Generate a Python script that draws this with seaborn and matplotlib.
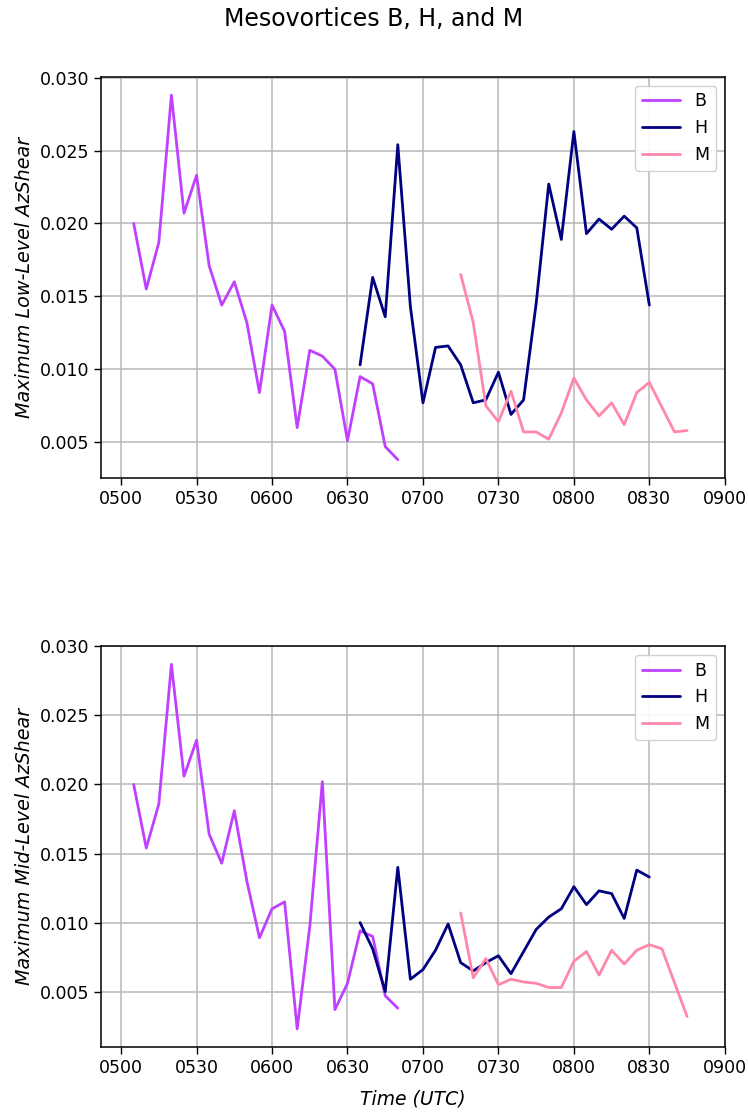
import numpy as np
import pandas as pd
import seaborn as sns
import matplotlib
matplotlib.use('Agg')
import matplotlib.pyplot as plt

# ---- data (times as HHMM UTC) ----
b_times = [505, 510, 515, 520, 525, 530, 535, 540, 545, 550, 555, 600,
           605, 610, 615, 620, 625, 630, 635, 640, 645, 650]
h_times = [635, 640, 645, 650, 655, 700, 705, 710, 715, 720, 725, 730,
           735, 740, 745, 750, 755, 800, 805, 810, 815, 820, 825, 830]
m_times_low = [715, 720, 725, 730, 735, 740, 745, 750, 755, 800, 805, 810,
               815, 820, 825, 830, 840, 845]
m_times_mid = [715, 720, 725, 730, 735, 740, 745, 750, 755, 800, 805, 810,
               815, 820, 825, 830, 835, 845]

b_low = [0.0200, 0.0155, 0.0187, 0.0288, 0.0207, 0.0233, 0.0171, 0.0144,
         0.0160, 0.0132, 0.0084, 0.0144, 0.0126, 0.0060, 0.0113, 0.0109,
         0.0100, 0.0051, 0.0095, 0.0090, 0.0047, 0.0038]
h_low = [0.0103, 0.0163, 0.0136, 0.0254, 0.0143, 0.0077, 0.0115, 0.0116,
         0.0103, 0.0077, 0.0079, 0.0098, 0.0069, 0.0079, 0.0145, 0.0227,
         0.0189, 0.0263, 0.0193, 0.0203, 0.0196, 0.0205, 0.0197, 0.0144]
m_low = [0.0165, 0.0132, 0.0075, 0.0064, 0.0085, 0.0057, 0.0057, 0.0052,
         0.0070, 0.0094, 0.0079, 0.0068, 0.0077, 0.0062, 0.0084, 0.0091,
         0.0057, 0.0058]

b_mid = [0.0200, 0.0154, 0.0186, 0.0287, 0.0206, 0.0232, 0.0164, 0.0143,
         0.0181, 0.0130, 0.0089, 0.0110, 0.0115, 0.0023, 0.0097, 0.0202,
         0.0037, 0.0056, 0.0094, 0.0090, 0.0047, 0.0038]
h_mid = [0.0100, 0.0081, 0.0050, 0.0140, 0.0059, 0.0066, 0.0080, 0.0099,
         0.0071, 0.0065, 0.0071, 0.0076, 0.0063, 0.0079, 0.0095, 0.0104,
         0.0110, 0.0126, 0.0113, 0.0123, 0.0121, 0.0103, 0.0138, 0.0133]
m_mid = [0.0107, 0.0060, 0.0074, 0.0055, 0.0059, 0.0057, 0.0056, 0.0053,
         0.0053, 0.0072, 0.0079, 0.0062, 0.0080, 0.0070, 0.0080, 0.0084,
         0.0081, 0.0032]

tick_times = [500, 530, 600, 630, 700, 730, 800, 830, 900]
colors = {'B': '#c040ff', 'H': '#000080', 'M': '#ff88aa'}


def to_min(hhmm):
    # minutes after 0500 UTC
    return (hhmm // 100 - 5) * 60 + hhmm % 100


def build(series):
    frames = []
    for name, times, vals in series:
        frames.append(pd.DataFrame({'time': [to_min(t) for t in times],
                                    'value': vals, 'vortex': name}))
    return pd.concat(frames, ignore_index=True)


df_low = build([('B', b_times, b_low), ('H', h_times, h_low), ('M', m_times_low, m_low)])
df_mid = build([('B', b_times, b_mid), ('H', h_times, h_mid), ('M', m_times_mid, m_mid)])

sns.set_style('ticks')
plt.rcParams['font.family'] = ['DejaVu Sans']
plt.rcParams['text.color'] = 'black'
plt.rcParams['axes.labelcolor'] = 'black'
plt.rcParams['xtick.color'] = 'black'
plt.rcParams['ytick.color'] = 'black'

fig = plt.figure(figsize=(7.48, 11.14), dpi=100)
ax1 = fig.add_axes([0.135, 0.571, 0.834, 0.360])
ax2 = fig.add_axes([0.135, 0.060, 0.834, 0.360])

for ax, df, ylab in [(ax1, df_low, 'Maximum Low-Level AzShear'),
                     (ax2, df_mid, 'Maximum Mid-Level AzShear')]:
    sns.lineplot(data=df, x='time', y='value', hue='vortex', palette=colors,
                 linewidth=2, ax=ax, sort=True)
    ax.set_xlim(-8, 240)
    ax.set_xticks([to_min(t) for t in tick_times])
    ax.set_xticklabels([f'{t:04d}' for t in tick_times])
    ax.set_yticks([0.005, 0.010, 0.015, 0.020, 0.025, 0.030])
    ax.yaxis.set_major_formatter(matplotlib.ticker.FormatStrFormatter('%.3f'))
    ax.tick_params(labelsize=12.5, length=5, width=1, color='black')
    ax.grid(True, color='#b8b8b8', linewidth=1.1)
    for s in ax.spines.values():
        s.set_color('black')
        s.set_linewidth(1.1)
    ax.set_ylabel(ylab, fontstyle='italic', fontsize=13.8)
    ax.set_xlabel('')
    leg = ax.legend(loc='upper right', fontsize=12.5, title=None,
                    framealpha=0.9, edgecolor='#cccccc', handlelength=2.2)

ax2.set_xlabel('Time (UTC)', fontstyle='italic', fontsize=13.5, labelpad=9)
fig.suptitle('Mesovortices B, H, and M', fontsize=17, y=0.994)

fig.savefig('out.png', dpi=100)
